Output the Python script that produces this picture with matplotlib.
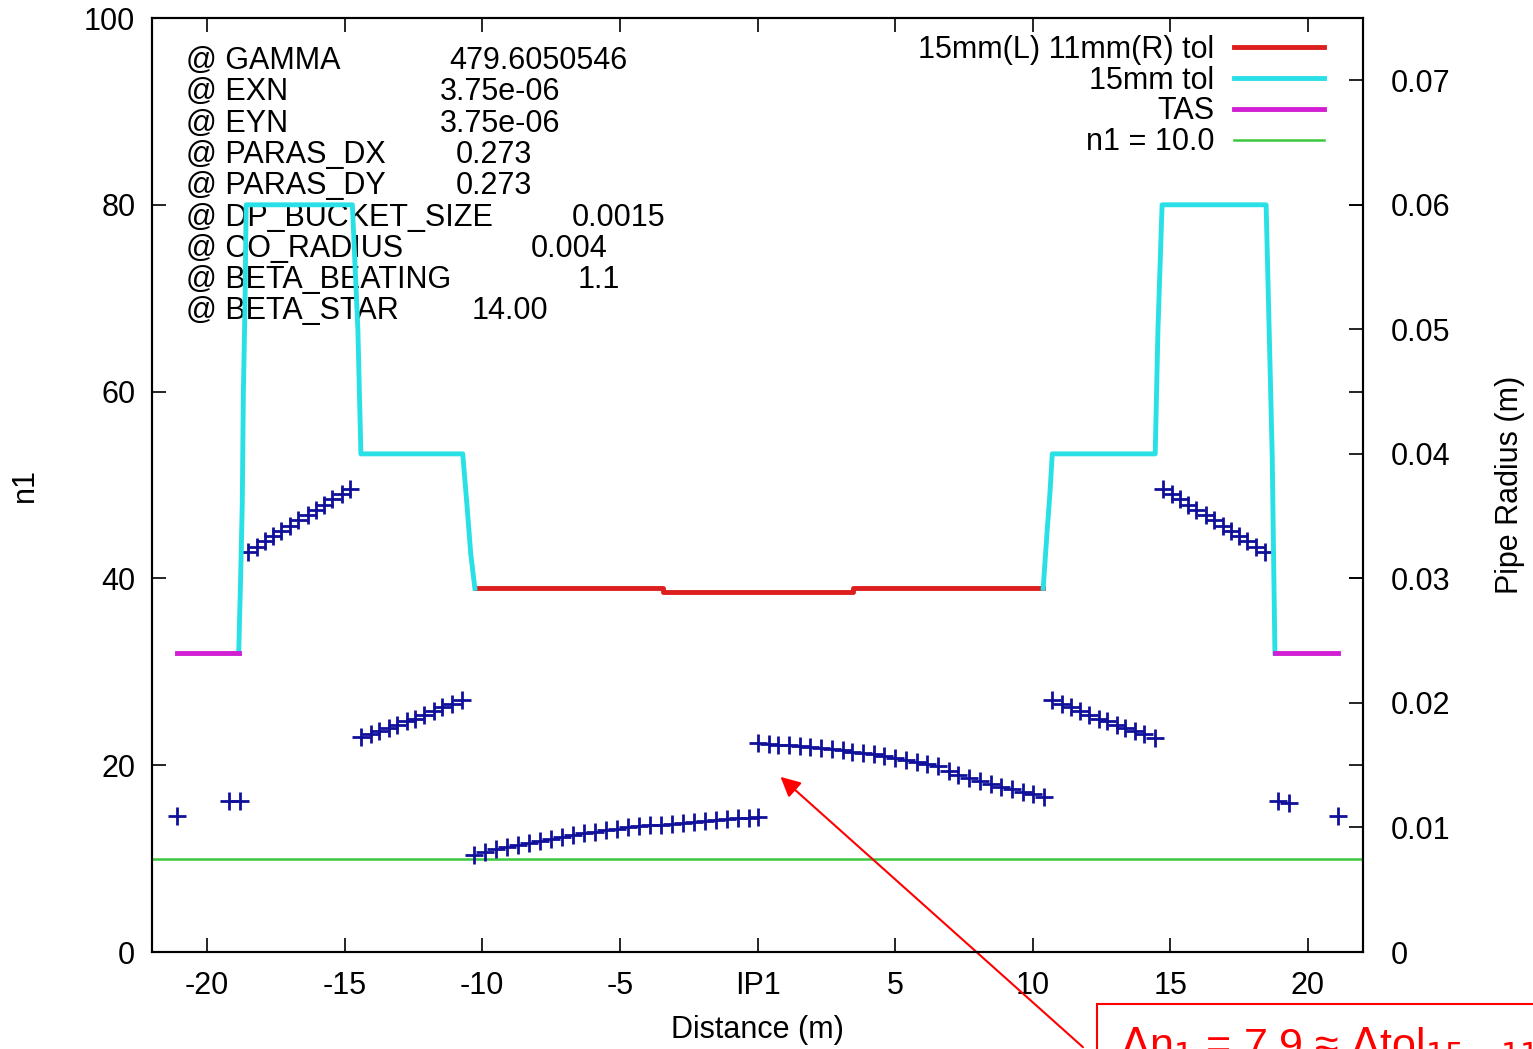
import matplotlib
matplotlib.use("Agg")
import matplotlib.pyplot as plt
import matplotlib.patches as patches

plt.rcParams['font.family'] = ['Liberation Sans', 'DejaVu Sans']

# ---- n1 values (blue crosses) ----
n1_x = [-21.1, -19.2, -18.8,
        -18.5, -18.2, -17.9, -17.6, -17.3, -17.0, -16.7, -16.35, -16.05, -15.75, -15.45, -15.1, -14.8,
        -14.4, -14.05, -13.75, -13.4, -13.1, -12.75, -12.45, -12.1, -11.75, -11.45, -11.1, -10.75,
        -10.3, -9.9, -9.5, -9.1, -8.7, -8.3, -7.9, -7.5, -7.1, -6.7, -6.3, -5.9, -5.5, -5.1,
        -4.7, -4.3, -3.9, -3.5, -3.1, -2.7, -2.3, -1.9, -1.5, -1.1, -0.7, -0.3, 0.0,
        0.0, 0.4, 0.75, 1.15, 1.55, 1.9, 2.3, 2.7, 3.1, 3.45, 3.85, 4.25, 4.6, 5.0,
        5.4, 5.8, 6.15, 6.55, 6.95, 7.3, 7.7, 8.1, 8.5, 8.85, 9.25, 9.65, 10.0, 10.4,
        10.7, 11.05, 11.4, 11.7, 12.05, 12.4, 12.7, 13.05, 13.35, 13.7, 14.05, 14.45,
        14.75, 15.05, 15.35, 15.65, 15.95, 16.3, 16.6, 16.9, 17.2, 17.5, 17.8, 18.1, 18.45,
        18.9, 19.3, 21.1]
n1_y = [14.6, 16.2, 16.2,
        42.8, 43.4, 44.0, 44.5, 45.1, 45.6, 46.2, 46.8, 47.3, 47.9, 48.5, 49.0, 49.6,
        23.0, 23.3, 23.7, 24.0, 24.3, 24.7, 25.0, 25.4, 25.8, 26.2, 26.6, 27.0,
        10.4, 10.7, 11.0, 11.2, 11.5, 11.7, 11.9, 12.1, 12.3, 12.5, 12.7, 12.9, 13.1, 13.2,
        13.4, 13.5, 13.6, 13.65, 13.7, 13.8, 13.9, 14.0, 14.1, 14.2, 14.3, 14.4, 14.5,
        22.4, 22.3, 22.2, 22.15, 22.05, 21.95, 21.85, 21.75, 21.6, 21.45, 21.3, 21.2, 21.0, 20.8,
        20.6, 20.35, 20.1, 19.9, 19.4, 19.0, 18.65, 18.35, 18.0, 17.7, 17.4, 17.1, 16.9, 16.6,
        27.0, 26.6, 26.2, 25.8, 25.4, 25.0, 24.7, 24.3, 24.0, 23.7, 23.3, 22.9,
        49.6, 49.0, 48.5, 47.9, 47.3, 46.8, 46.2, 45.6, 45.1, 44.5, 44.0, 43.4, 42.8,
        16.2, 16.0, 14.6]

# ---- pipe radius (m) ----
tol_mid_x = [-10.27, -3.45, -3.45, 3.48, 3.48, 10.38]
tol_mid_r = [0.0292, 0.0292, 0.0289, 0.0289, 0.0292, 0.0292]

tol15_l_x = [-18.85, -18.78, -18.72, -18.68, -18.62, -18.58, -14.72, -14.52, -14.41,
             -10.71, -10.56, -10.42, -10.27]
tol15_l_r = [0.024, 0.030, 0.036, 0.045, 0.052, 0.060, 0.060, 0.050, 0.040,
             0.040, 0.036, 0.032, 0.0292]
tol15_r_x = [10.38, 10.53, 10.63, 10.71, 14.45, 14.55, 14.70, 18.48, 18.59, 18.70, 18.80]
tol15_r_r = [0.0292, 0.034, 0.037, 0.040, 0.040, 0.050, 0.060, 0.060, 0.050, 0.040, 0.024]

tas_l_x = [-21.1, -18.85]
tas_r_x = [18.8, 21.1]
tas_r = [0.024, 0.024]

n1_limit = 10.0

params = [("@ GAMMA", "479.6050546", 449),
          ("@ EXN", "3.75e-06", 440),
          ("@ EYN", "3.75e-06", 440),
          ("@ PARAS_DX", "0.273", 456),
          ("@ PARAS_DY", "0.273", 456),
          ("@ DP_BUCKET_SIZE", "0.0015", 572),
          ("@ CO_RADIUS", "0.004", 531),
          ("@ BETA_BEATING", "1.1", 578),
          ("@ BETA_STAR", "14.00", 472)]

xticks = [-20, -15, -10, -5, 0, 5, 10, 15, 20]
xtick_labels = ["-20", "-15", "-10", "-5", "IP1", "5", "10", "15", "20"]
r_ticks = [0, 0.01, 0.02, 0.03, 0.04, 0.05, 0.06, 0.07]
r_labels = ["0", "0.01", "0.02", "0.03", "0.04", "0.05", "0.06", "0.07"]

W, H = 1533, 1049
FS = 22
fig = plt.figure(figsize=(W / 100, H / 100), dpi=100)
ax = fig.add_axes([152 / W, 1 - 952 / H, (1363 - 152) / W, (952 - 18) / H])
ax2 = ax.twinx()

ax.plot(n1_x, n1_y, linestyle='none', marker='+', markersize=13, mew=2.0,
        color='#10109a', zorder=3)
green, = ax.plot([-22, 22], [n1_limit, n1_limit], color='#3cc83c', lw=1.8,
                 label="n1 = 10.0")

red, = ax2.plot(tol_mid_x, tol_mid_r, color='#dc1e1e', lw=3.5,
                label="15mm(L) 11mm(R) tol")
cyan, = ax2.plot(tol15_l_x, tol15_l_r, color='#28e0e6', lw=3.5, label="15mm tol")
ax2.plot(tol15_r_x, tol15_r_r, color='#28e0e6', lw=3.5)
mag, = ax2.plot(tas_l_x, tas_r, color='#d21ed2', lw=3.5, label="TAS")
ax2.plot(tas_r_x, tas_r, color='#d21ed2', lw=3.5)

ax.set_xlim(-22, 22)
ax.set_ylim(0, 100)
ax2.set_ylim(0, 0.075)
ax.set_xticks(xticks)
ax.set_xticklabels(xtick_labels)
ax.set_yticks(range(0, 101, 20))
ax2.set_yticks(r_ticks)
ax2.set_yticklabels(r_labels)

ax.tick_params(direction='in', length=10, width=1.2, labelsize=FS, top=True, right=True)
ax.tick_params(axis='x', pad=14)
ax.tick_params(axis='y', pad=12)
ax2.tick_params(direction='in', length=10, width=1.2, labelsize=FS, pad=20)
for a in (ax, ax2):
    for s in a.spines.values():
        s.set_linewidth(1.5)

# parameter block
for i, (name, val, vx) in enumerate(params):
    yb = 1 - (69 + i * 31.3) / H
    ax.text(186 / W, yb, name, transform=fig.transFigure, fontsize=FS, va='baseline', zorder=1)
    ax.text(vx / W, yb, val, transform=fig.transFigure, fontsize=FS, va='baseline', zorder=1)

ax2.legend([red, cyan, mag, green],
           ["15mm(L) 11mm(R) tol", "15mm tol", "TAS", "n1 = 10.0"],
           loc='upper right', bbox_to_anchor=(1 - 5 / 1211, 1 + 17 / 934),
           frameon=False, fontsize=FS, markerfirst=False,
           handlelength=2.95, handletextpad=0.65, labelspacing=0.03,
           borderaxespad=0.85, borderpad=0.25)

fig.text(25 / W, 1 - 485 / H, "n1", rotation=90, fontsize=FS, ha='center', va='center')
fig.text(1510 / W, 1 - 485 / H, "Pipe Radius (m)", rotation=90, fontsize=FS,
         ha='center', va='center')
fig.text(757 / W, 1 - 1030 / H, "Distance (m)", fontsize=FS, ha='center', va='center')

# annotation (cut off at the bottom of the page)
ax.annotate("", xy=(0.76, 18.95), xycoords='data',
            xytext=(1085 / W, 1 - 1049 / H), textcoords='figure fraction',
            arrowprops=dict(arrowstyle='-|>', color='red', lw=1.5, mutation_scale=30),
            annotation_clip=False)
fig.patches.append(patches.Rectangle((1097 / W, -0.05), 0.5, 0.05 + 1 - 1004 / H,
                                     transform=fig.transFigure, fill=False,
                                     edgecolor='red', lw=1.5))
fig.text(1120 / W, 1 - 1058 / H, r"$\Delta$n$_1$ = 7.9 ≈ $\Delta$tol$_{15-11}$ = 4 mm",
         color='red', fontsize=31, va='baseline', ha='left')

fig.savefig("out.png", dpi=100)
